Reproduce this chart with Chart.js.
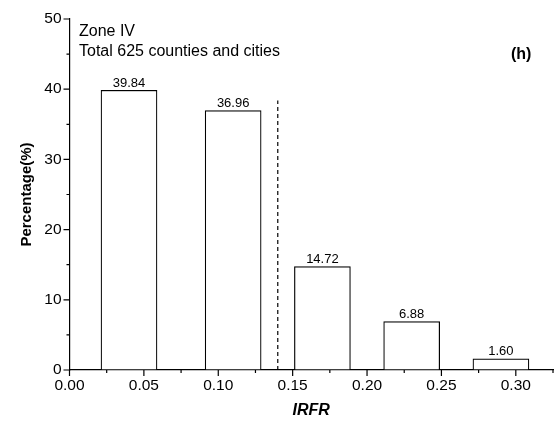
<!DOCTYPE html>
<html lang="en">
<head>
  <meta charset="UTF-8" />
  <title>Zone IV IRFR</title>
  <script src="https://cdn.jsdelivr.net/npm/chart.js"></script>
<style>
  html, body {
    margin: 0;
    padding: 0;
    background: #fff;
  }
  #wrap {
    width: 558px;
    height: 425px;
  }
</style>
</head>
<body>
  <div id="wrap"><canvas id="irfrChart" width="558" height="425"></canvas></div>

<script>
  // values
  const binCenters = [0.04, 0.11, 0.17, 0.23, 0.29];
  const percentages = [39.84, 36.96, 14.72, 6.88, 1.60];
  const thresholdX = [0.14, 0.14];
  const thresholdY = [0, 38.4];

  const xMajorTicks = [0.00, 0.05, 0.10, 0.15, 0.20, 0.25, 0.30];
  const xMinorTicks = [0.025, 0.075, 0.125, 0.175, 0.225, 0.275, 0.325];
  const yMajorTicks = [0, 10, 20, 30, 40, 50];
  const yMinorTicks = [5, 15, 25, 35, 45];

  const annotLines = ["Zone IV", "Total 625 counties and cities"];
  const panelTag = "(h)";

  const FONT = "'Liberation Sans', Arial, sans-serif";

  // tick marks + text drawn on top of the chart
  const decorPlugin = {
    id: 'decor',
    afterDraw(chart) {
      const ctx = chart.ctx;
      const xs = chart.scales.x, ys = chart.scales.y;
      const x0 = xs.left, y0 = ys.bottom;
      ctx.save();
      ctx.strokeStyle = '#000';
      ctx.lineWidth = 1.2;
      ctx.beginPath();
      xMajorTicks.forEach(v => {
        const px = xs.getPixelForValue(v);
        ctx.moveTo(px, y0); ctx.lineTo(px, y0 + 6);
      });
      xMinorTicks.forEach(v => {
        const px = xs.getPixelForValue(v);
        ctx.moveTo(px, y0); ctx.lineTo(px, y0 + 3);
      });
      yMajorTicks.forEach(v => {
        const py = ys.getPixelForValue(v);
        ctx.moveTo(x0, py); ctx.lineTo(x0 - 6, py);
      });
      yMinorTicks.forEach(v => {
        const py = ys.getPixelForValue(v);
        ctx.moveTo(x0, py); ctx.lineTo(x0 - 3, py);
      });
      ctx.stroke();

      // bar value labels
      ctx.fillStyle = '#000';
      ctx.font = "13px " + FONT;
      ctx.textAlign = 'center';
      ctx.textBaseline = 'alphabetic';
      const meta = chart.getDatasetMeta(0);
      meta.data.forEach((bar, i) => {
        ctx.fillText(percentages[i].toFixed(2), bar.x, bar.y - 3.5);
      });

      // annotation text
      ctx.font = "16px " + FONT;
      ctx.textAlign = 'left';
      ctx.textBaseline = 'middle';
      ctx.fillText(annotLines[0], 79, 32);
      ctx.fillText(annotLines[1], 79, 52);
      ctx.font = "bold 16px " + FONT;
      ctx.fillText(panelTag, 511, 55);
      ctx.restore();
    }
  };

  new Chart(document.getElementById('irfrChart'), {
    type: 'bar',
    data: {
      datasets: [{
        data: binCenters.map((x, i) => ({ x: x, y: percentages[i] })),
        backgroundColor: '#fff',
        borderColor: '#000',
        borderWidth: 1.2,
        borderSkipped: false,
        barThickness: 56
      }, {
        type: 'line',
        data: thresholdX.map((x, i) => ({ x: x, y: thresholdY[i] })),
        borderColor: '#000',
        borderWidth: 1.2,
        borderDash: [4, 3],
        pointRadius: 0,
        fill: false
      }]
    },
    options: {
      responsive: false,
      animation: false,
      devicePixelRatio: 1,
      layout: { padding: { top: 19, right: 5, left: 0, bottom: 0 } },
      plugins: {
        legend: { display: false },
        tooltip: { enabled: false }
      },
      scales: {
        x: {
          type: 'linear',
          offset: false,
          min: 0,
          max: 0.325,
          afterBuildTicks: s => { s.ticks = xMajorTicks.map(v => ({ value: v })); },
          afterFit: s => { s.height = 55; },
          grid: { display: false, drawTicks: false },
          border: { display: true, color: '#000', width: 1.2 },
          ticks: {
            color: '#000',
            padding: 6,
            maxRotation: 0,
            autoSkip: false,
            font: { family: FONT, size: 15.5 },
            callback: v => Number(v).toFixed(2)
          },
          title: {
            display: true,
            text: 'IRFR',
            color: '#000',
            font: { family: FONT, size: 16, weight: 'bold', style: 'italic' },
            padding: { top: 0, bottom: 4.4 }
          }
        },
        y: {
          min: 0,
          max: 50,
          afterBuildTicks: s => { s.ticks = yMajorTicks.map(v => ({ value: v })); },
          afterFit: s => { s.width = 69.5; },
          grid: { display: false, drawTicks: false },
          border: { display: true, color: '#000', width: 1.2 },
          ticks: {
            color: '#000',
            padding: 8,
            font: { family: FONT, size: 15.5 }
          },
          title: {
            display: true,
            text: 'Percentage(%)',
            color: '#000',
            font: { family: FONT, size: 15, weight: 'bold' },
            padding: { top: 17.7, bottom: 0 }
          }
        }
      }
    },
    plugins: [decorPlugin]
  });
</script>
</body>
</html>
